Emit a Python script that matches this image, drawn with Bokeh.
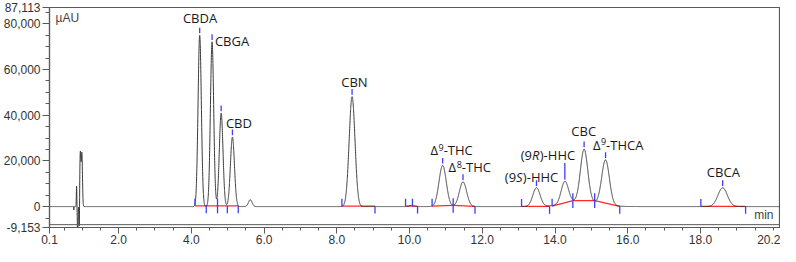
import numpy as np
from bokeh.plotting import figure
from bokeh.models import Range1d, FixedTicker, NumeralTickFormatter, Label, Span
from bokeh.embed import file_html
from bokeh.resources import INLINE

# ---------------- data ----------------
# Solvent front disturbance (min, µAU, sigma min)
front_rt = [0.77, 0.845, 0.875, 0.92, 0.948, 0.99]
front_height = [-1500, 9000, -14000, -13000, 23500, 23000]
front_width = [0.004, 0.007, 0.009, 0.007, 0.016, 0.016]

# Chromatographic peaks (retention time min, height µAU, sigma min)
peak_rt = [4.23, 4.57, 4.82, 5.13, 5.62, 8.42, 10.05, 10.91, 11.47, 13.49, 14.27, 14.80, 15.39, 18.61]
peak_height = [75000, 72100, 40900, 30400, 3000, 48100, 500, 18000, 10800, 8200, 9700, 22750, 19600, 8200]
peak_width = [0.045, 0.045, 0.05, 0.055, 0.05, 0.08, 0.06, 0.10, 0.10, 0.10, 0.10, 0.10, 0.105, 0.13]

# Broad hump under the HHC / CBC / THCA group
hump_rt = [14.75]
hump_height = [2400]
hump_width = [0.45]

# Peak labels (centre time, centre level)
label_names = ["CBDA", "CBGA", "CBD", "CBN", "Δ⁹-THC", "Δ⁸-THC", "(9S)-HHC",
               "(9R)-HHC", "CBC", "Δ⁹-THCA", "CBCA"]
label_t = [4.24, 5.12, 5.31, 8.49, 11.16, 11.66, 13.36, 13.81, 14.79, 15.74, 18.63]
label_v = [82300, 72600, 36700, 54500, 24600, 17200, 13100, 22500, 33200, 27100, 15300]

# Apex markers (retention times of identified peaks)
apex_t = [4.23, 4.57, 4.82, 5.13, 8.42, 10.91, 11.47, 13.49, 14.27, 14.80, 15.39, 18.61]

# Integration baselines (start t, start µAU, end t, end µAU)
base_t0 = [4.10, 8.14, 9.89, 10.62, 11.20, 13.08, 13.92, 14.49, 15.09, 18.01]
base_v0 = [300, 200, 200, 200, 500, 100, 200, 2600, 2600, 100]
base_t1 = [5.29, 9.05, 10.22, 11.20, 11.80, 13.85, 14.49, 15.09, 15.78, 19.24]
base_v1 = [300, 200, 200, 500, 100, 100, 2600, 2600, 100, 100]

# Peak delimiters (time, direction)
delim_t = [4.10, 4.41, 4.72, 4.99, 5.29, 8.14, 9.05, 9.89, 10.08, 10.22, 10.62, 11.20,
           11.80, 13.08, 13.85, 13.92, 14.49, 15.09, 15.78, 18.01, 19.24]
delim_dir = ["up", "down", "both", "down", "down", "up", "down", "up", "up", "down", "up",
             "both", "down", "up", "down", "up", "both", "both", "down", "up", "down"]

# Axes
x_ticks = [0.1, 2.0, 4.0, 6.0, 8.0, 10.0, 12.0, 14.0, 16.0, 18.0, 20.2]
x_tick_labels = ["0.1", "2.0", "4.0", "6.0", "8.0", "10.0", "12.0", "14.0", "16.0", "18.0", "20.2"]
y_ticks = [-9153, 0, 20000, 40000, 60000, 80000, 87113]
y_tick_labels = ["-9,153", "0", "20,000", "40,000", "60,000", "80,000", "87,113"]
x_min, x_max = 0.1, 20.2
y_min, y_max = -9153, 87113

# ---------------- build trace ----------------
t = np.arange(x_min, x_max + 1e-9, 0.002)
signal = np.zeros_like(t)
for rts, hs, ws in ((front_rt, front_height, front_width),
                    (peak_rt, peak_height, peak_width),
                    (hump_rt, hump_height, hump_width)):
    for rt, h, w in zip(rts, hs, ws):
        signal += h * np.exp(-0.5 * ((t - rt) / w) ** 2)

TRACE = "#3a3a3a"
BLUE = "#3d3dff"
RED = "#ff2a2a"
AXIS = "#5a5a5a"

p = figure(width=780, height=246, x_range=Range1d(x_min, x_max), y_range=Range1d(y_min, y_max),
           output_backend="svg", toolbar_location=None,
           min_border_left=4, min_border_right=0, min_border_top=7, min_border_bottom=0)
p.background_fill_color = "white"
p.border_fill_color = "white"
p.outline_line_color = AXIS
p.outline_line_width = 1.2
p.grid.visible = False

# integration baselines
p.segment(x0=base_t0, y0=base_v0, x1=base_t1, y1=base_v1, line_color=RED, line_width=1.2)

# trace
p.line(t, signal, line_color=TRACE, line_width=1.0)

# baseline level at delimiter times
bp_t = []
bp_v = []
for a, va, b, vb in zip(base_t0, base_v0, base_t1, base_v1):
    bp_t += [a, b]
    bp_v += [va, vb]
order = np.argsort(bp_t, kind="stable")
bp_t = np.array(bp_t)[order]
bp_v = np.array(bp_v)[order]
TICK = 3200
d0, d1 = [], []
for td, dd in zip(delim_t, delim_dir):
    v = float(np.interp(td, bp_t, bp_v))
    if dd == "up":
        d0.append(v); d1.append(v + TICK)
    elif dd == "down":
        d0.append(v - TICK); d1.append(v)
    else:
        d0.append(v - TICK); d1.append(v + TICK)
p.segment(x0=delim_t, y0=d0, x1=delim_t, y1=d1, line_color=BLUE, line_width=1.3)

# apex markers
apex_v = np.interp(apex_t, t, signal)
m_len = [2500] * len(apex_t)
m_len[apex_t.index(14.27)] = 7200
a0 = [v + 800 for v in apex_v]
a1 = [v + 800 + L for v, L in zip(apex_v, m_len)]
p.segment(x0=apex_t, y0=a0, x1=apex_t, y1=a1, line_color=BLUE, line_width=1.3)

# labels built from runs (superscripts, italic stereo descriptors)
EM = {"A": .633, "B": .648, "C": .631, "D": .729, "G": .726, "H": .752, "N": .785,
      "R": .635, "S": .551, "T": .556, "(": .296, ")": .296, "-": .322, "Δ": .62}
EM_IT = {"S": .519, "R": .604}
SUP = {"⁸": "8", "⁹": "9"}
FS = 13.0
SUP_FS = 9.0


def runs(name):
    out = []
    for i, ch in enumerate(name):
        if ch in SUP:
            style = "sup"; c = SUP[ch]
        elif ch in "SR" and name[max(0, i - 2):i] == "(9":
            style = "italic"; c = ch
        else:
            style = "normal"; c = ch
        if out and out[-1][1] == style:
            out[-1][0] += c
        else:
            out.append([c, style])
    return out


def width(txt, style):
    if style == "sup":
        return sum(0.572 * SUP_FS for _ in txt)
    tbl = EM_IT if style == "italic" else EM
    return sum(tbl.get(c, EM.get(c, 0.572)) * FS for c in txt)


for name, lt, lv in zip(label_names, label_t, label_v):
    rr = runs(name)
    total = sum(width(txt, st) for txt, st in rr)
    off = -total / 2.0
    for txt, st in rr:
        p.add_layout(Label(x=lt, y=lv, x_offset=off, y_offset=(3 if st == "sup" else 0), text=txt,
                           text_font="Open Sans",
                           text_font_size=("%dpx" % SUP_FS if st == "sup" else "%dpx" % FS),
                           text_font_style=("italic" if st == "italic" else "normal"),
                           text_color="#1a1a1a", text_align="left", text_baseline="middle"))
        off += width(txt, st)

# unit labels
p.add_layout(Label(x=x_min, y=y_max, x_offset=6, y_offset=-10, text="µAU", text_font="Liberation Sans",
                   text_font_size="12px", text_color="#444444", text_align="left",
                   text_baseline="middle"))
p.add_layout(Label(x=x_max, y=y_min, x_offset=-7, y_offset=13, text="min", text_font="Liberation Sans",
                   text_font_size="12px", text_color="#444444", text_align="right",
                   text_baseline="middle"))

# second (inner) bottom line, as in the original frame
p.add_layout(Span(location=y_min + 1250, dimension="width", line_color=AXIS, line_width=1.0))

# axes
p.xaxis.ticker = FixedTicker(ticks=x_ticks, minor_ticks=list(np.arange(0.5, 20.01, 0.5)))
p.xaxis.formatter = NumeralTickFormatter(format="0.0")
p.xaxis.major_label_overrides = {k: v for k, v in zip(x_ticks, x_tick_labels)}
p.yaxis.ticker = FixedTicker(ticks=y_ticks, minor_ticks=list(range(-5000, 85001, 5000)))
p.yaxis.formatter = NumeralTickFormatter(format="0,0")
p.yaxis.major_label_overrides = {k: v for k, v in zip(y_ticks, y_tick_labels)}
for ax in (p.xaxis, p.yaxis):
    ax.axis_line_color = AXIS
    ax.axis_line_width = 1.2
    ax.major_tick_line_color = AXIS
    ax.minor_tick_line_color = AXIS
    ax.major_tick_in = 0
    ax.minor_tick_in = 0
    ax.major_label_text_font = "Liberation Sans"
    ax.major_label_text_font_size = "12px"
    ax.major_label_text_color = "#333333"
p.xaxis.major_tick_out = 6
p.xaxis.minor_tick_out = 3
p.xaxis.major_label_standoff = 1
p.yaxis.major_tick_out = 7
p.yaxis.minor_tick_out = 4
p.yaxis.major_label_standoff = 2

open("out.html", "w").write(file_html(p, INLINE))
